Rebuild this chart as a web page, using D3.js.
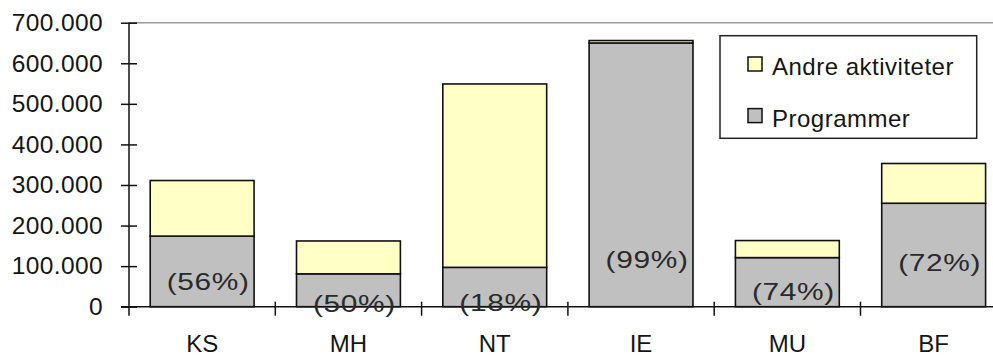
<!DOCTYPE html>
<html>
<head>
<meta charset="utf-8">
<script src="https://cdn.jsdelivr.net/npm/d3@7/dist/d3.min.js"></script>
<style>
  html, body { margin: 0; padding: 0; background: #fff; }
  svg { display: block; font-family: "Liberation Sans", Arial, sans-serif; }
</style>
</head>
<body>
<svg id="chart" width="993" height="357"></svg>
<script>
// Units per category
const categories = ["KS", "MH", "NT", "IE", "MU", "BF"];
// Budget spent on programmes
const programmer = [174000, 81000, 97000, 650000, 121000, 255000];
// Budget spent on other activities
const andre = [137000, 81000, 452000, 6000, 42000, 98000];
// Value level where each share label sits
const labelAnchor = [60000, 6000, 10000, 115000, 37000, 107000];
// Value axis ticks
const yTicks = [0, 100000, 200000, 300000, 400000, 500000, 600000, 700000];

const seriesNames = ["Andre aktiviteter", "Programmer"];
const colors = { "Programmer": "#c0c0c0", "Andre aktiviteter": "#ffffc6" };

const svg = d3.select("#chart");
const W = 993;
const plot = { left: 129, top: 22.7, bottom: 306.7, right: 1006.8 };

const nb = d3.formatLocale({ decimal: ",", thousands: ".", grouping: [3], currency: ["", " kr"] });
const fmt = nb.format(",");

const x = d3.scaleBand()
  .domain(categories)
  .range([plot.left, plot.right])
  .paddingInner(0.29)
  .paddingOuter(0.145);

const y = d3.scaleLinear()
  .domain([0, 700000])
  .range([plot.bottom, plot.top]);

// Top border of the plot area
svg.append("line")
  .attr("x1", plot.left).attr("x2", W)
  .attr("y1", y(700000)).attr("y2", y(700000))
  .attr("stroke", "#9a9a9a").attr("stroke-width", 1.5);

const rows = categories.map((c, i) => ({
  cat: c,
  Programmer: programmer[i],
  "Andre aktiviteter": andre[i],
  anchor: labelAnchor[i]
}));

const stack = d3.stack().keys(["Programmer", "Andre aktiviteter"]);
const layers = stack(rows);

svg.append("g").selectAll("g")
  .data(layers)
  .join("g")
  .attr("fill", d => colors[d.key])
  .selectAll("rect")
  .data(d => d)
  .join("rect")
  .attr("x", d => x(d.data.cat))
  .attr("width", x.bandwidth())
  .attr("y", d => y(d[1]))
  .attr("height", d => y(d[0]) - y(d[1]))
  .attr("stroke", "#111")
  .attr("stroke-width", 1.6);

// Y axis
const yAxis = svg.append("g")
  .attr("transform", `translate(${plot.left},0)`)
  .call(d3.axisLeft(y).tickValues(yTicks).tickFormat(fmt).tickSizeInner(8).tickSizeOuter(0).tickPadding(19));
yAxis.select(".domain").remove();
yAxis.selectAll(".tick line").attr("x2", 8).attr("x1", -8).attr("stroke", "#111").attr("stroke-width", 1.5);
yAxis.selectAll(".tick text")
  .attr("x", -26)
  .attr("font-size", 24.5)
  .attr("letter-spacing", 0.4)
  .attr("font-family", "Liberation Sans, Arial, sans-serif")
  .attr("fill", "#151515");
svg.append("line")
  .attr("x1", plot.left).attr("x2", plot.left)
  .attr("y1", y(700000)).attr("y2", plot.bottom + 9)
  .attr("stroke", "#111").attr("stroke-width", 1.5);

// X axis baseline and category separators
svg.append("line")
  .attr("x1", plot.left - 8).attr("x2", W)
  .attr("y1", plot.bottom).attr("y2", plot.bottom)
  .attr("stroke", "#111").attr("stroke-width", 1.5);
const bounds = categories.map(c => x(c) - x.step() * x.paddingOuter());
svg.append("g").selectAll("line")
  .data(bounds.slice(1))
  .join("line")
  .attr("x1", d => d).attr("x2", d => d)
  .attr("y1", plot.bottom - 5).attr("y2", plot.bottom + 9)
  .attr("stroke", "#111").attr("stroke-width", 1.5);

svg.append("g").selectAll("text")
  .data(categories)
  .join("text")
  .attr("x", d => x(d) + x.bandwidth() / 2)
  .attr("y", plot.bottom + 45)
  .attr("text-anchor", "middle")
  .attr("font-size", 24)
  .attr("fill", "#151515")
  .text(d => d);

// Programme share labels
svg.append("g").selectAll("text")
  .data(rows)
  .join("text")
  .attr("transform", d => `translate(${x(d.cat) + x.bandwidth() / 2 + 6},${y(d.anchor)}) scale(1.3,1)`)
  .attr("text-anchor", "middle")
  .attr("dy", "0.35em")
  .attr("font-size", 23)
  .attr("fill", "#2a2a2a")
  .attr("letter-spacing", 0.5)
  .text(d => `(${Math.round(d.Programmer / (d.Programmer + d["Andre aktiviteter"]) * 100)}%)`);

// Legend
const lg = svg.append("g");
lg.append("rect")
  .attr("x", 720).attr("y", 35.7)
  .attr("width", 256.7).attr("height", 102.6)
  .attr("fill", "#fff").attr("stroke", "#222").attr("stroke-width", 1.5);
const items = lg.selectAll("g.item")
  .data(seriesNames)
  .join("g")
  .attr("class", "item")
  .attr("transform", (d, i) => `translate(748,${57 + i * 51.6})`);
items.append("rect")
  .attr("width", 14).attr("height", 14)
  .attr("fill", d => colors[d])
  .attr("stroke", "#111").attr("stroke-width", 1.5);
items.append("text")
  .attr("x", 24).attr("y", 18)
  .attr("font-size", 24)
  .attr("letter-spacing", 0.5)
  .attr("fill", "#151515")
  .text(d => d);
</script>
</body>
</html>
